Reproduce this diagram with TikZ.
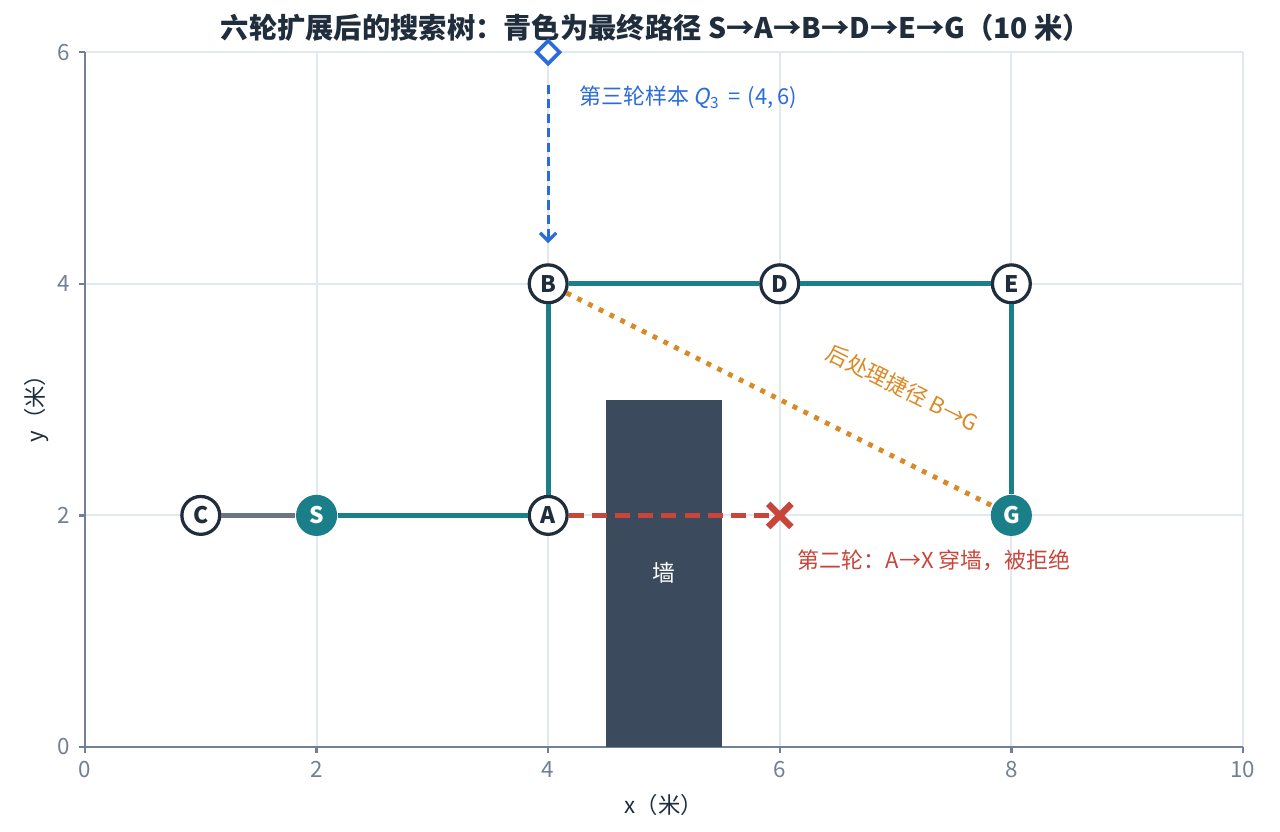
\documentclass[tikz,border=0pt]{standalone}
\usepackage{fontspec}
\setmainfont{Noto Sans CJK SC}
\newfontfamily\slantfont[FakeSlant=0.2]{Noto Sans CJK SC}
\usetikzlibrary{shapes.geometric,arrows.meta}
\definecolor{pathteal}{HTML}{1B7F8A}
\definecolor{navy}{HTML}{1F2D3D}
\definecolor{wallgray}{HTML}{3B4A5C}
\definecolor{rejectred}{HTML}{C8453A}
\definecolor{shortorange}{HTML}{D98A26}
\definecolor{sampleblue}{HTML}{2B6CDB}
\definecolor{gridgray}{HTML}{E2E8F0}
\definecolor{axisgray}{HTML}{718096}
\definecolor{stubgray}{HTML}{6B7585}

\begin{document}
\begin{tikzpicture}
[x=1cm, y=1cm, every node/.style={inner sep=0pt},
 treenode/.style={circle, minimum size=0.327cm, fill=white, line width=0.8pt, draw=navy, text=navy, font=\fontsize{5.6}{6}\selectfont\bfseries},
 endnode/.style={circle, minimum size=0.355cm, fill=pathteal, text=white, font=\fontsize{5.6}{6}\selectfont\bfseries},
 pathline/.style={line width=1.3pt, color=pathteal},
 gridline/.style={line width=0.5pt, color=gridgray},
 axisline/.style={line width=0.6pt, color=axisgray},
 ticklabel/.style={text=axisgray, font=\fontsize{5.5}{6}\selectfont},
 note/.style={font=\fontsize{5.4}{6}\selectfont}]
\useasboundingbox (-0.734,-0.734) rectangle (10.320,6.451);
\foreach \x in {2,4,...,10} \draw [gridline] (\x,0) -- (\x,6);
\foreach \y in {2,4,6} \draw [gridline] (0,\y) -- (10,\y);
\draw [axisline] (0,6) -- (0,0) -- (10,0);
\foreach \x in {0,2,...,10} {
  \draw [axisline] (\x,0) -- (\x,-0.05);
  \node (xt\x) [ticklabel, anchor=north] at (\x,-0.12) {\x};
}
\foreach \y in {0,2,4,6} {
  \draw [axisline] (0,\y) -- (-0.05,\y);
  \node (yt\y) [ticklabel, anchor=east] at (-0.12,\y) {\y};
}
\node (xlabel) [text=navy, font=\fontsize{5.5}{6}\selectfont] at (5,-0.5) {x（米）};
\node (ylabel) [text=navy, font=\fontsize{5.5}{6}\selectfont, rotate=90] at (-0.42,2.97) {y（米）};
\node (title) [text=navy, font=\fontsize{6.95}{8}\selectfont\bfseries] at (4.93,6.21) {六轮扩展后的搜索树：青色为最终路径 S→A→B→D→E→G（10 米）};
\node (wall) [fill=wallgray, minimum width=1cm, minimum height=3cm, text=white, font=\fontsize{5.6}{6}\selectfont] at (5,1.5) {墙};
\node (C) [treenode] at (1,2) {C};
\node (S) [endnode] at (2,2) {S};
\node (A) [treenode] at (4,2) {A};
\node (B) [treenode] at (4,4) {B};
\node (D) [treenode] at (6,4) {D};
\node (E) [treenode] at (8,4) {E};
\node (G) [endnode] at (8,2) {G};
\coordinate (X) at (6,2);
\node (Q) [diamond, minimum size=0.21cm, fill=white, line width=0.9pt, draw=sampleblue] at (4,6) {};
\coordinate (qtop) at (4,5.72);
\coordinate (qend) at (4,4.35);
\draw [line width=1.1pt, color=stubgray] (C) -- (S);
\draw [pathline] (S) -- (A);
\draw [pathline] (A) -- (B);
\draw [pathline] (B) -- (D);
\draw [pathline] (D) -- (E);
\draw [pathline] (E) -- (G);
\draw [line width=1.1pt, color=rejectred, dash pattern=on 0.13cm off 0.07cm] (A) -- (X);
\draw [line width=1.6pt, color=rejectred] ([shift={(-0.1,-0.1)}]X) -- ([shift={(0.1,0.1)}]X) ([shift={(-0.1,0.1)}]X) -- ([shift={(0.1,-0.1)}]X);
\draw [line width=1.2pt, color=shortorange, dash pattern=on 0.042cm off 0.062cm] (B) -- (G);
\draw [line width=0.8pt, color=sampleblue, dash pattern=on 0.08cm off 0.045cm, -{Straight Barb[length=0.7mm, width=1.4mm]}] (qtop) -- (qend);
\node (qlabel) [note, text=sampleblue, anchor=west] at (4.26,5.61) {第三轮样本 {\slantfont Q}\textsubscript{3}\,\,=\,\,(4,\,6)};
\node (rejectlabel) [note, text=rejectred, anchor=west] at (6.15,1.61) {第二轮：A→X 穿墙，被拒绝};
\node (shortcutlabel) [note, text=shortorange, rotate=-26.57] at (7.06,3.1) {后处理捷径 B→G};
\end{tikzpicture}
\end{document}
